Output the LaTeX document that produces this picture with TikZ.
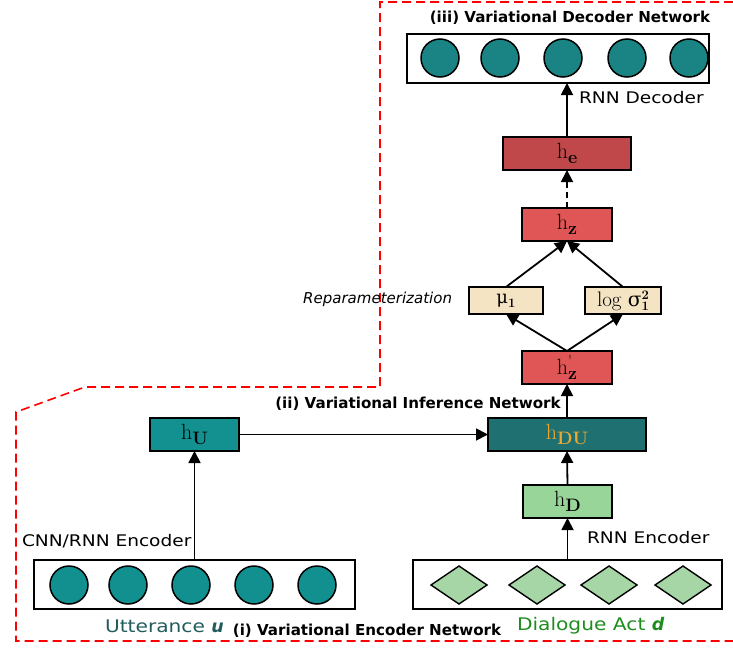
\documentclass[tikz,border=0pt]{standalone}
\usepackage{fontspec}
\usetikzlibrary{arrows.meta,shapes.geometric}
\newfontfamily\lblfont[FakeStretch=1.16]{DejaVu Sans}
\newfontfamily\sansfont{DejaVu Sans}
\newfontfamily\grk{DejaVu Serif}
\newfontfamily\lmr{Latin Modern Roman}

% h with a bold subscript, and small raised/lowered scripts
\newcommand{\hsub}[1]{{\lmr\fontsize{22}{24}\selectfont h}\raisebox{-5pt}{\lmr\fontsize{18}{18}\selectfont\bfseries #1}}
\newcommand{\hprime}[1]{{\lmr\fontsize{22}{24}\selectfont h}\rlap{\raisebox{8pt}{\lmr\fontsize{16}{16}\selectfont\char"0027}}\raisebox{-5pt}{\lmr\fontsize{18}{18}\selectfont\bfseries #1}}
\newcommand{\lowscript}[1]{\raisebox{-4pt}{\lmr\fontsize{13}{13}\selectfont\bfseries #1}}
\newcommand{\twoscript}[2]{\rlap{\raisebox{7pt}{\lmr\fontsize{13}{13}\selectfont\bfseries #1}}\raisebox{-4pt}{\lmr\fontsize{13}{13}\selectfont\bfseries #2}}

\definecolor{decteal}{HTML}{1A8383}
\definecolor{utteal}{HTML}{129090}
\definecolor{huteal}{HTML}{139191}
\definecolor{duteal}{HTML}{1F7171}
\definecolor{dured}{HTML}{C0484A}
\definecolor{zred}{HTML}{E05555}
\definecolor{wheat}{HTML}{F5E4C4}
\definecolor{dgreen}{HTML}{98D598}
\definecolor{diagreen}{HTML}{A6D6A6}
\definecolor{utttext}{HTML}{1F5C5C}
\definecolor{datext}{HTML}{1E8C1E}
\definecolor{duorange}{HTML}{F0A830}

\tikzset{
  every node/.style={inner sep=0pt, outer sep=0pt},
  hbox/.style={draw=black, line width=1.6pt, minimum height=33pt},
  parbox/.style={draw=black, line width=1.6pt, minimum height=27pt, fill=wheat},
  seqbox/.style={draw=black, line width=1.6pt, minimum height=49pt, fill=white},
  unit/.style={circle, draw=black, line width=1.5pt, minimum size=38pt},
  actunit/.style={diamond, draw=black, line width=1.4pt, fill=diagreen,
    minimum width=56pt, minimum height=38pt},
  conn/.style={line width=1.8pt, -{Triangle[length=12pt,width=12pt]}},
  dashconn/.style={conn, dash pattern=on 6pt off 4pt},
  region/.style={red, line width=1.6pt, dash pattern=on 9pt off 5pt},
  lbl/.style={font=\lblfont\fontsize{16}{18}\selectfont},
  biglbl/.style={font=\lblfont\fontsize{17.4}{19}\selectfont},
  hdr/.style={font=\sansfont\bfseries\fontsize{15.1}{17}\selectfont},
}

\begin{document}
\begin{tikzpicture}[x=1pt, y=-1pt]
\useasboundingbox (0,0) rectangle (733,648);

% region outline
\draw[region] (733,2) -- (380,2) -- (380,387) -- (85,387) -- (16,412)
  -- (16,641) -- (733,641);

% decoder output sequence
\node[seqbox, minimum width=302pt] (decbox) at (558,58.5) {};
\foreach \x/\n in {440/1,500/2,563/3,627/4,689/5}
  \node[unit, fill=decteal] (dec\n) at (\x,58) {};

% latent and hidden states
\node[hbox, fill=dured, minimum width=128pt] (he) at (567,153.5) {\hsub{e}};
\node[hbox, fill=zred, minimum width=90pt] (hz) at (567,224.5) {\hsub{z}};
\node[parbox, minimum width=74pt] (mu) at (506,300.5) {{\grk\fontsize{18}{20}\selectfont μ}\lowscript{1}};
\node[parbox, minimum width=76pt] (ls) at (623,300.5) {{\lmr\fontsize{21}{23}\selectfont log }{\grk\fontsize{20}{22}\selectfont σ}\twoscript{2}{1}};
\node[hbox, fill=zred, minimum width=90pt] (hzp) at (567,367.5) {\hprime{z}};
\node[hbox, fill=duteal, minimum width=158pt, text=duorange] (hdu) at (567,434.5) {\hsub{DU}};
\node[hbox, fill=huteal, minimum width=89pt] (hu) at (194.5,434.5) {\hsub{U}};
\node[hbox, fill=dgreen, minimum width=89pt] (hd) at (567.5,501.5) {\hsub{D}};

% input sequences
\node[seqbox, minimum width=309pt] (dabox) at (567.5,584.5) {};
\foreach \x/\n in {459/1,537/2,609/3,683/4}
  \node[actunit] (da\n) at (\x,585) {};
\node[seqbox, minimum width=321pt] (utbox) at (194.5,584.5) {};
\foreach \x/\n in {69/1,128/2,191/3,254/4,317/5}
  \node[unit, fill=utteal] (ut\n) at (\x,585) {};

% connectors
\draw[conn] (he.north) -- (he.north |- decbox.south);
\draw[dashconn] (hz.north) -- (he.south);
\draw[conn] (mu.north) -- (hz.south);
\draw[conn] (ls.north) -- (hz.south);
\draw[conn] (hzp.north) -- (mu.south);
\draw[conn] (hzp.north) -- (ls.south);
\draw[conn] (hdu.north) -- (hzp.south);
\draw[conn] (hu.east) -- (hdu.west);
\draw[conn] (hd.north) -- (hdu.south);
\draw[conn] (hd.south |- dabox.north) -- (hd.south);
\draw[conn] (hu.south |- utbox.north) -- (hu.south);

% labels
\node[hdr] (t3) at (570,18) {(iii) Variational Decoder Network};
\node[lbl, anchor=west] (rnndec) at (579,98) {RNN Decoder};
\node[font=\sansfont\itshape\fontsize{15}{17}\selectfont, anchor=east] (rep) at (452,299) {Reparameterization};
\node[hdr] (t2) at (418,404) {(ii) Variational Inference Network};
\node[lbl, anchor=west] (cnnenc) at (22,541) {CNN/RNN Encoder};
\node[lbl, anchor=west] (rnnenc) at (587,538) {RNN Encoder};
\node[biglbl, anchor=west, text=utttext] (utt) at (105,626) {Utterance {\sansfont\bfseries\itshape u}};
\node[hdr] (t1) at (367,631) {(i) Variational Encoder Network};
\node[biglbl, anchor=west, text=datext] (dact) at (517,626) {Dialogue Act {\sansfont\bfseries\itshape d}};
\end{tikzpicture}
\end{document}
